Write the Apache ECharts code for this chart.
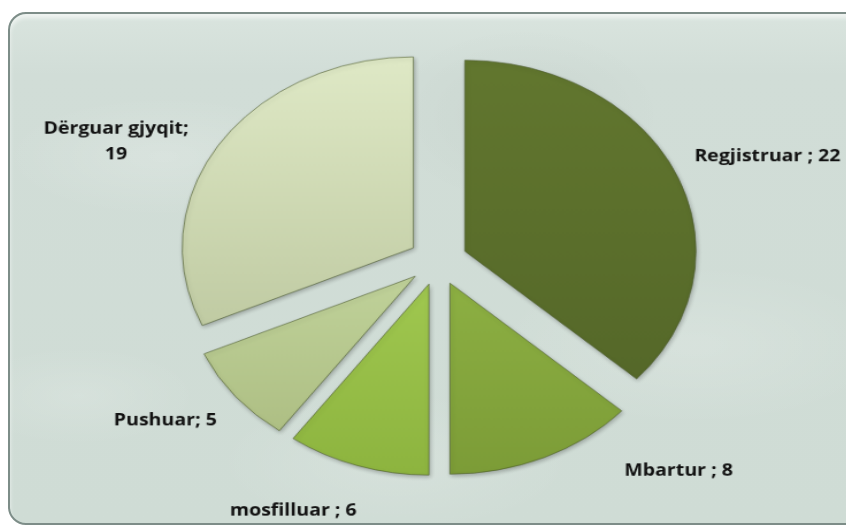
<!DOCTYPE html>
<html>
<head>
<meta charset="utf-8">
<script src="https://cdn.jsdelivr.net/npm/echarts@6/dist/echarts.min.js"></script>
<style>
  html, body { margin: 0; padding: 0; background: #ffffff; overflow: hidden; width: 846px; height: 529px; }
  #card {
    position: absolute; left: 8px; top: 12px; width: 860px; height: 513px;
    border: 2px solid #7d8d88; border-radius: 18px; box-sizing: border-box;
    background:
      radial-gradient(ellipse 160px 60px at 18% 28%, rgba(255,255,255,0.18), rgba(255,255,255,0)),
      radial-gradient(ellipse 200px 80px at 80% 65%, rgba(255,255,255,0.16), rgba(255,255,255,0)),
      radial-gradient(ellipse 180px 70px at 45% 88%, rgba(255,255,255,0.14), rgba(255,255,255,0)),
      radial-gradient(ellipse 120px 50px at 8% 75%, rgba(255,255,255,0.14), rgba(255,255,255,0)),
      radial-gradient(ellipse 140px 90px at 60% 20%, rgba(0,0,0,0.03), rgba(0,0,0,0)),
      linear-gradient(180deg, #d9e4de 0%, #d1ddd7 12%, #cfdcd5 100%);
    box-shadow: inset 0 4px 4px rgba(255,255,255,0.6);
  }
  /* the reference is a horizontally stretched image: scale the whole chart the same way */
  #chart {
    position: absolute; left: 0; top: 0; width: 846px; height: 580px;
    transform-origin: 440px 266px;
    transform: translate(-2px, -5px) scale(1.15, 0.95);
  }
</style>
</head>
<body>
<div id="card"></div>
<div id="chart"></div>
<script>
// slice names and values, clockwise from 12 o'clock
const names = ['Regjistruar ', 'Mbartur ', 'mosfilluar ', 'Pushuar', 'Dërguar gjyqit']
const values = [22, 8, 6, 5, 19]

// top / bottom gradient colours for each slice
const topColors = ['#62772f', '#8db043', '#a0c850', '#c0d29a', '#dfe9c6']
const bottomColors = ['#556829', '#7c9c37', '#8db43f', '#aebf84', '#c0cba3']

// label nudges [dx, dy] from the default outside position
const labelShift = [[-8, -13], [52, 3], [16, 36], [6, 18], [-67, 5]]

const chart = echarts.init(document.getElementById('chart'))

const data = names.map((n, i) => ({
  name: n,
  value: values[i],
  selected: true,
  itemStyle: {
    color: new echarts.graphic.LinearGradient(0, 0, 0, 1, [
      { offset: 0, color: topColors[i] },
      { offset: 1, color: bottomColors[i] },
    ]),
  },
}))

chart.setOption({
  animation: false,
  series: [{
    type: 'pie',
    center: [440, 266],
    radius: 201,
    startAngle: 90,
    clockwise: true,
    selectedMode: 'multiple',
    selectedOffset: 25.5,
    data: data,
    itemStyle: {
      borderColor: 'rgba(70,85,40,0.6)',
      borderWidth: 1,
      shadowBlur: 4,
      shadowColor: 'rgba(0,0,0,0.25)',
      shadowOffsetX: 1,
      shadowOffsetY: 2,
    },
    emphasis: { disabled: true },
    label: {
      show: true,
      position: 'outside',
      formatter: (p) => p.dataIndex === 4 ? 'Dërguar gjyqit;\n19' : p.name + '; ' + p.value,
      fontFamily: 'Open Sans',
      fontWeight: 'bold',
      fontSize: 17,
      color: '#111111',
      lineHeight: 27,
    },
    labelLine: { show: false, length: 12, length2: 8 },
    labelLayout: (p) => {
      const s = labelShift[p.dataIndex]
      const o = { dx: s[0], dy: s[1] }
      if (p.dataIndex === 4) o.align = 'center'
      return o
    },
  }],
})
</script>
</body>
</html>
